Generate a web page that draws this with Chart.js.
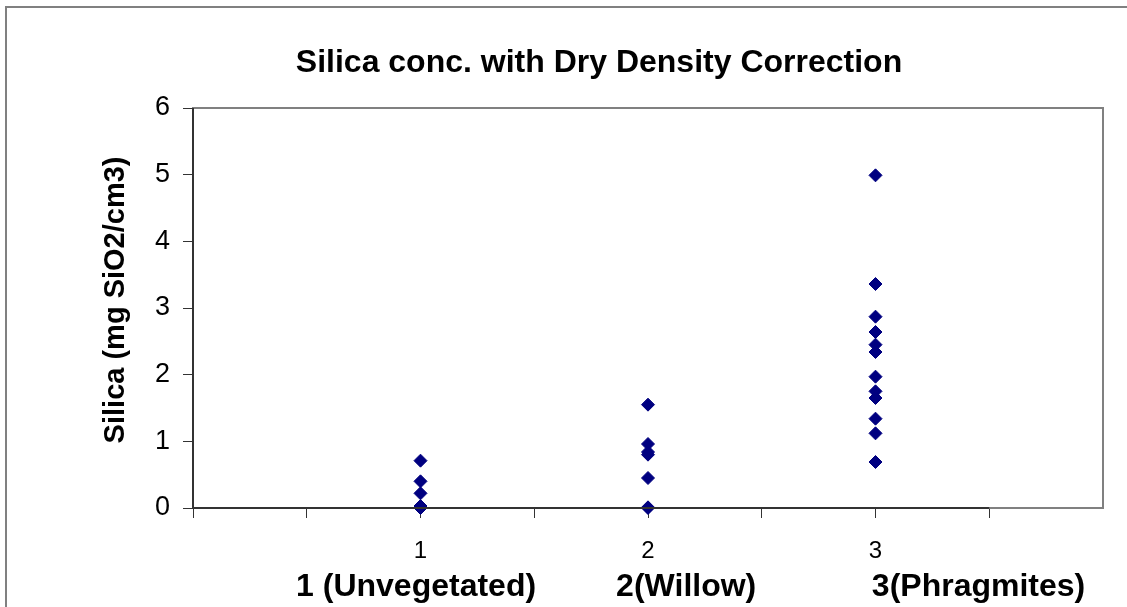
<!DOCTYPE html>
<html>
<head>
<meta charset="utf-8">
<script src="https://cdn.jsdelivr.net/npm/chart.js@4.4.1/dist/chart.umd.min.js"></script>
<style>
    body { margin: 0; background: #fff; }
    #chart { display: block; }
</style>
</head>
<body>
<canvas id="chart" width="1127" height="607"></canvas>
<script>
const chartTitle = "Silica conc. with Dry Density Correction";
const yTitle = "  Silica (mg SiO2/cm3)";
const xTitle = "1 (Unvegetated)         2(Willow)             3(Phragmites)  ";

// x position of each group and its tick label
const groupX = [1, 2, 3];
const groupLabels = ["1", "2", "3"];

// silica values, one array per group
const unvegetated = [0.71, 0.40, 0.22, 0.03, 0.01, 0];
const willow = [1.55, 0.96, 0.84, 0.80, 0.45, 0.01, 0];
const phragmites = [4.99, 3.36, 2.87, 2.64, 2.45, 2.34, 1.97, 1.75, 1.65, 1.34, 1.12, 0.69];

const yTicks = [0, 1, 2, 3, 4, 5, 6];
const xTicks = [0, 0.5, 1, 1.5, 2, 2.5, 3, 3.5];

const groups = [unvegetated, willow, phragmites];
let points = [];
groups.forEach((vals, i) => {
    vals.forEach(v => points.push({ x: groupX[i], y: v }));
});

const fontName = "'Liberation Sans', Arial, sans-serif";
const axisDark = '#333333';
const frameGray = '#808080';

// plot frame, axis lines and outer chart border
const framePlugin = {
    id: 'frame',
    beforeDraw(chart) {
        const ctx = chart.ctx;
        ctx.save();
        ctx.strokeStyle = frameGray;
        ctx.lineWidth = 2;
        ctx.beginPath();
        ctx.moveTo(1127, 7);
        ctx.lineTo(6, 7);
        ctx.lineTo(6, 607);
        ctx.stroke();
        ctx.restore();
    },
    afterDatasetsDraw(chart) {
        const ctx = chart.ctx;
        const a = chart.chartArea;
        const xs = chart.scales.x;
        ctx.save();
        ctx.lineWidth = 2;
        ctx.strokeStyle = frameGray;
        ctx.strokeRect(a.left, a.top, a.right - a.left, a.bottom - a.top);
        ctx.strokeStyle = axisDark;
        ctx.beginPath();
        ctx.moveTo(a.left, a.top);
        ctx.lineTo(a.left, a.bottom);
        ctx.lineTo(xs.getPixelForValue(xTicks[xTicks.length - 1]), a.bottom);
        ctx.stroke();
        ctx.restore();
    }
};

new Chart(document.getElementById('chart'), {
    type: 'scatter',
    data: {
        datasets: [{
            label: 'Silica',
            data: points,
            pointStyle: 'rectRot',
            pointRadius: 6.5,
            pointHoverRadius: 6.5,
            backgroundColor: '#000080',
            borderColor: '#000080',
            borderWidth: 1,
            clip: false
        }]
    },
    options: {
        responsive: false,
        animation: false,
        layout: { padding: { left: 95, right: 24, top: 0, bottom: 0 } },
        plugins: {
            legend: { display: false },
            tooltip: { enabled: false },
            title: {
                display: true,
                text: chartTitle,
                color: '#000',
                font: { family: fontName, size: 32, weight: 'bold' },
                padding: { top: 44, bottom: 25.6 }
            }
        },
        scales: {
            x: {
                type: 'linear',
                min: 0,
                max: 4,
                afterBuildTicks: s => { s.ticks = xTicks.map(v => ({ value: v })); },
                afterFit: s => { s.height = 99; },
                ticks: {
                    color: '#000',
                    font: { family: fontName, size: 24 },
                    padding: 19,
                    maxRotation: 0,
                    autoSkip: false,
                    callback: v => {
                        const i = groupX.indexOf(v);
                        return i >= 0 ? groupLabels[i] : '';
                    }
                },
                grid: { drawOnChartArea: false, drawTicks: true, tickLength: 10, color: axisDark, lineWidth: 1 },
                border: { display: false },
                title: {
                    display: true,
                    text: xTitle,
                    color: '#000',
                    font: { family: fontName, size: 32, weight: 'bold' },
                    align: 'end',
                    padding: { top: 0, bottom: 1 }
                }
            },
            y: {
                min: 0,
                max: 6,
                afterBuildTicks: s => { s.ticks = yTicks.map(v => ({ value: v })); },
                afterFit: s => { s.width = 98; },
                ticks: {
                    color: '#000',
                    font: { family: fontName, size: 27 },
                    padding: 13
                },
                grid: { drawOnChartArea: false, drawTicks: true, tickLength: 10, color: axisDark, lineWidth: 1 },
                border: { display: false },
                title: {
                    display: true,
                    text: yTitle,
                    color: '#000',
                    font: { family: fontName, size: 29, weight: 'bold' },
                    padding: { top: 4, bottom: 0 }
                }
            }
        }
    },
    plugins: [framePlugin]
});
</script>
</body>
</html>
